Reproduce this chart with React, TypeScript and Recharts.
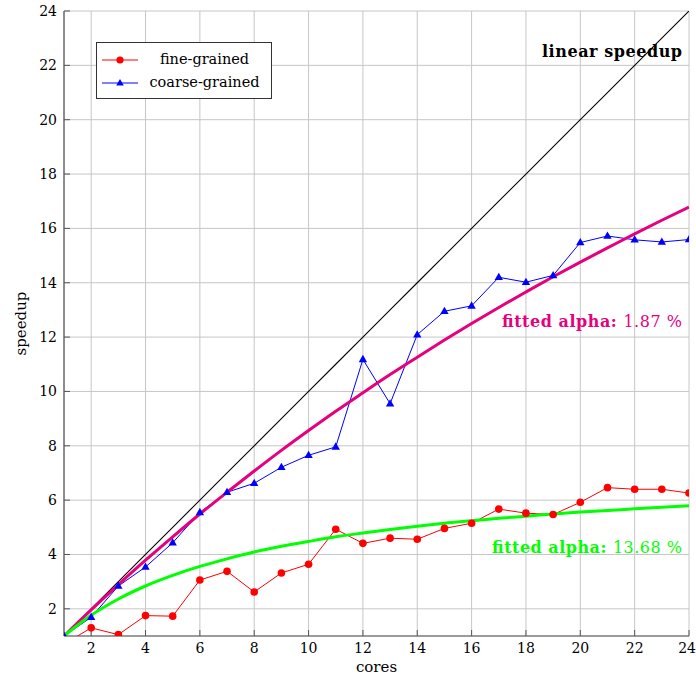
import {
  CartesianGrid,
  Legend,
  Line,
  LineChart,
  ReferenceDot,
  XAxis,
  YAxis,
} from "recharts";

const cores = [1, 2, 3, 4, 5, 6, 7, 8, 9, 10, 11, 12, 13, 14, 15, 16, 17, 18, 19, 20, 21, 22, 23, 24];
const fineGrained = [0.7, 1.3, 1.05, 1.75, 1.73, 3.06, 3.38, 2.62, 3.32, 3.64, 4.93, 4.41, 4.6, 4.56, 4.96, 5.15, 5.67, 5.52, 5.47, 5.92, 6.46, 6.4, 6.4, 6.26];
const coarseGrained = [1, 1.69, 2.84, 3.54, 4.43, 5.55, 6.29, 6.62, 7.21, 7.65, 7.96, 11.18, 9.55, 12.09, 12.95, 13.15, 14.2, 14.02, 14.27, 15.48, 15.72, 15.58, 15.5, 15.59];
const linearSpeedup = [1, 2, 3, 4, 5, 6, 7, 8, 9, 10, 11, 12, 13, 14, 15, 16, 17, 18, 19, 20, 21, 22, 23, 24];
// fitted curves (alpha 1.87 % and 13.68 %)
const fitCoarse = [1, 1.96, 2.89, 3.79, 4.65, 5.49, 6.29, 7.07, 7.83, 8.56, 9.27, 9.95, 10.62, 11.26, 11.89, 12.5, 13.09, 13.66, 14.22, 14.76, 15.28, 15.8, 16.3, 16.78];
const fitFine = [1, 1.76, 2.36, 2.84, 3.23, 3.56, 3.84, 4.09, 4.3, 4.48, 4.65, 4.79, 4.92, 5.04, 5.15, 5.24, 5.33, 5.41, 5.49, 5.56, 5.62, 5.68, 5.74, 5.79];
const ticks = [2, 4, 6, 8, 10, 12, 14, 16, 18, 20, 22, 24];
const legendOrder = ["fine", "coarse"];

const data = cores.map((c, i) => ({
  x: c,
  fine: fineGrained[i],
  coarse: coarseGrained[i],
  linear: linearSpeedup[i],
  fitC: fitCoarse[i],
  fitF: fitFine[i],
}));

const RED = "#ff0000";
const BLUE = "#0000ff";
const MAGENTA = "#e6007e";
const GREEN = "#00ff00";
const FRAME = "#555";
const FONT = '"DejaVu Serif", serif';

function Triangle(props: any) {
  const { cx, cy } = props;
  if (cx == null || cy == null) return null;
  return (
    <polygon
      points={`${cx},${cy - 4.5} ${cx - 4.2},${cy + 2.8} ${cx + 4.2},${cy + 2.8}`}
      fill={BLUE}
    />
  );
}

function LegendBox({ payload }: any) {
  const items = (payload || [])
    .filter((p: any) => legendOrder.includes(p.dataKey))
    .sort((a: any, b: any) => legendOrder.indexOf(a.dataKey) - legendOrder.indexOf(b.dataKey));
  return (
    <div
      style={{
        width: 176,
        height: 57,
        boxSizing: "border-box",
        border: "1px solid #333",
        background: "#fff",
        paddingTop: 5,
        fontFamily: FONT,
        fontSize: 14.5,
        color: "#000",
      }}
    >
      {items.map((p: any) => (
        <div key={p.dataKey} style={{ display: "flex", alignItems: "center", height: 23 }}>
          <svg width={36} height={12} style={{ marginLeft: 5, flex: "none" }}>
            <line x1={0} y1={6} x2={36} y2={6} stroke={p.color} strokeWidth={1} />
            {p.dataKey === "fine" ? (
              <circle cx={18} cy={6} r={3.6} fill={RED} />
            ) : (
              <polygon points="18,2 14.2,8.6 21.8,8.6" fill={BLUE} />
            )}
          </svg>
          <span style={{ flex: 1, textAlign: "center", lineHeight: "23px" }}>{p.value}</span>
        </div>
      ))}
    </div>
  );
}

function makeNote(bold: string, rest: string, color: string, width: number) {
  return ({ viewBox }: any) => (
    <text
      x={viewBox.x - 7}
      y={viewBox.y}
      textAnchor="end"
      fill={color}
      fontSize={16}
      style={{ fontFamily: FONT }}
      textLength={width}
      lengthAdjust="spacing"
    >
      <tspan fontWeight="bold">{bold}</tspan>
      {rest ? <tspan>{rest}</tspan> : null}
    </text>
  );
}

function SpeedupLabel({ viewBox }: any) {
  const x = viewBox.x + 21;
  const y = viewBox.y + viewBox.height / 2;
  return (
    <text
      x={x}
      y={y}
      transform={`rotate(-90, ${x}, ${y})`}
      textAnchor="middle"
      dominantBaseline="central"
      fontSize={15}
      style={{ fontFamily: FONT }}
      fill="#000"
    >
      speedup
    </text>
  );
}

const tickStyle = { fill: "#000", fontSize: 14, style: { fontFamily: FONT } };

export default function App() {
  return (
    <div style={{ position: "absolute", left: 0, top: 0, background: "#fff", fontFamily: FONT }}>
      <LineChart
        width={696}
        height={677}
        data={data}
        margin={{ top: 11, right: 7, bottom: 0, left: 0 }}
        style={{ fontFamily: FONT }}
      >
        <CartesianGrid stroke="#c6c6c6" strokeWidth={1} />
        <XAxis
          dataKey="x"
          type="number"
          domain={[1, 24]}
          ticks={ticks}
          allowDataOverflow
          height={41}
          tickSize={-6}
          tickMargin={13}
          tick={tickStyle}
          axisLine={{ stroke: FRAME, strokeWidth: 1.2 }}
          tickLine={{ stroke: FRAME }}
          label={{
            value: "cores",
            position: "insideBottom",
            offset: 5,
            fill: "#000",
            fontSize: 15,
            style: { fontFamily: FONT },
          }}
        />
        <XAxis
          xAxisId="top"
          dataKey="x"
          orientation="top"
          type="number"
          domain={[1, 24]}
          ticks={ticks}
          allowDataOverflow
          height={0}
          tickSize={-6}
          tick={false}
          axisLine={{ stroke: FRAME, strokeWidth: 1.2 }}
          tickLine={{ stroke: FRAME }}
        />
        <YAxis
          type="number"
          domain={[1, 24]}
          ticks={ticks}
          allowDataOverflow
          width={64}
          tickSize={-6}
          tickMargin={13}
          tick={tickStyle}
          axisLine={{ stroke: FRAME, strokeWidth: 1.2 }}
          tickLine={{ stroke: FRAME }}
          label={{ content: SpeedupLabel }}
        />
        <YAxis
          yAxisId="right"
          orientation="right"
          type="number"
          domain={[1, 24]}
          ticks={ticks}
          allowDataOverflow
          width={0}
          tickSize={-6}
          tick={false}
          axisLine={{ stroke: FRAME, strokeWidth: 1.2 }}
          tickLine={{ stroke: FRAME }}
        />
        <Line
          dataKey="fine"
          name="fine-grained"
          stroke={RED}
          strokeWidth={1}
          dot={{ r: 3.8, fill: RED, stroke: "none" }}
          isAnimationActive={false}
        />
        <Line
          dataKey="coarse"
          name="coarse-grained"
          stroke={BLUE}
          strokeWidth={1}
          dot={<Triangle />}
          isAnimationActive={false}
        />
        <Line
          dataKey="linear"
          stroke="#000"
          strokeWidth={1.1}
          dot={false}
          legendType="none"
          isAnimationActive={false}
        />
        <Line
          type="monotone"
          dataKey="fitC"
          stroke={MAGENTA}
          strokeWidth={3}
          dot={false}
          legendType="none"
          isAnimationActive={false}
        />
        <Line
          type="monotone"
          dataKey="fitF"
          stroke={GREEN}
          strokeWidth={3}
          dot={false}
          legendType="none"
          isAnimationActive={false}
        />
        <ReferenceDot
          x={24}
          y={22.3}
          r={0}
          fill="none"
          stroke="none"
          label={{ content: makeNote("linear speedup", "", "#000", 140) }}
        />
        <ReferenceDot
          x={24}
          y={12.37}
          r={0}
          fill="none"
          stroke="none"
          label={{ content: makeNote("fitted alpha: ", "1.87 %", MAGENTA, 180) }}
        />
        <ReferenceDot
          x={24}
          y={4.05}
          r={0}
          fill="none"
          stroke="none"
          label={{ content: makeNote("fitted alpha: ", "13.68 %", GREEN, 190) }}
        />
        <Legend
          layout="horizontal"
          verticalAlign="middle"
          align="center"
          wrapperStyle={{ left: 96, top: 42, width: 176, height: 57 }}
          content={<LegendBox />}
        />
      </LineChart>
    </div>
  );
}
